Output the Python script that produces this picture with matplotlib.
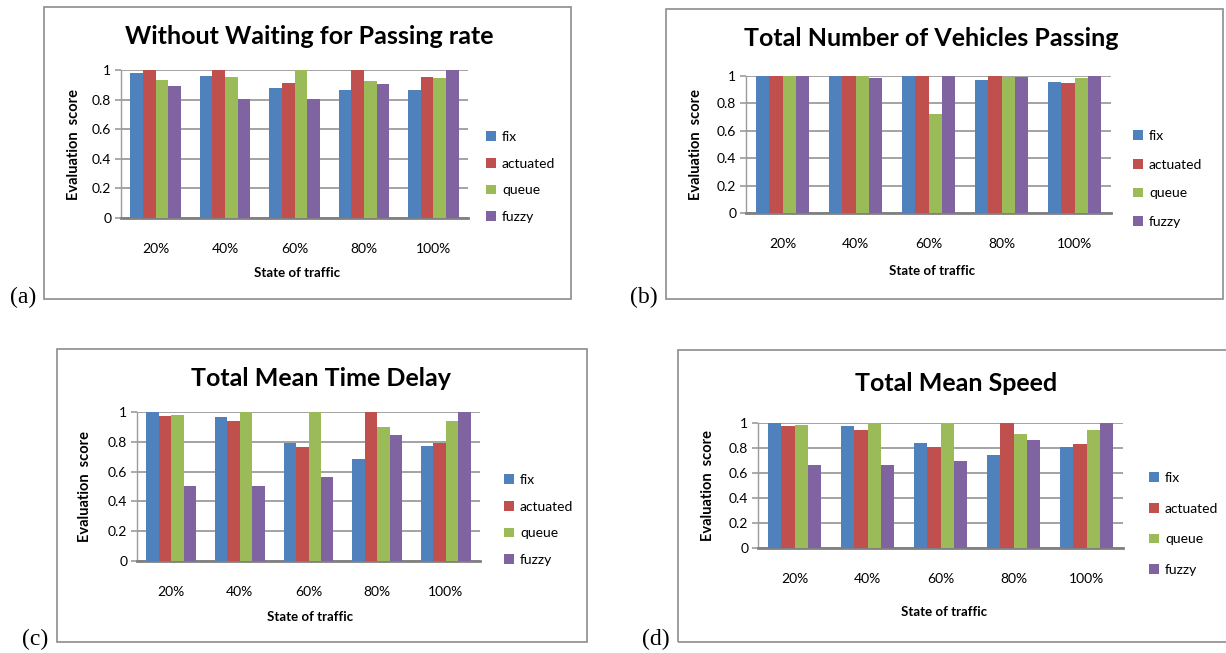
import matplotlib
matplotlib.use("Agg")
import matplotlib.pyplot as plt
from matplotlib.patches import Rectangle
import numpy as np

plt.rcParams['font.family'] = ['Lato', 'DejaVu Sans']

categories = ["20%", "40%", "60%", "80%", "100%"]
series_names = ["fix", "actuated", "queue", "fuzzy"]
colors = ["#4F81BD", "#C0504D", "#9BBB59", "#8064A2"]
yticks = [0, 0.2, 0.4, 0.6, 0.8, 1]
ytick_labels = ["0", "0.2", "0.4", "0.6", "0.8", "1"]

# (a) Without Waiting for Passing rate
a_fix = [0.98, 0.96, 0.88, 0.865, 0.865]
a_actuated = [1.0, 1.0, 0.91, 1.0, 0.953]
a_queue = [0.933, 0.953, 1.0, 0.926, 0.946]
a_fuzzy = [0.892, 0.804, 0.804, 0.906, 1.0]

# (b) Total Number of Vehicles Passing
b_fix = [1.0, 1.0, 1.0, 0.969, 0.954]
b_actuated = [1.0, 1.0, 1.0, 1.0, 0.947]
b_queue = [1.0, 1.0, 0.726, 0.99, 0.983]
b_fuzzy = [0.997, 0.988, 0.997, 0.99, 1.0]

# (c) Total Mean Time Delay
c_fix = [1.0, 0.964, 0.795, 0.683, 0.77]
c_actuated = [0.971, 0.937, 0.763, 1.0, 0.795]
c_queue = [0.978, 1.0, 1.0, 0.902, 0.937]
c_fuzzy = [0.502, 0.502, 0.562, 0.844, 1.0]

# (d) Total Mean Speed
d_fix = [1.0, 0.973, 0.837, 0.741, 0.805]
d_actuated = [0.973, 0.941, 0.805, 1.0, 0.829]
d_queue = [0.981, 0.992, 1.0, 0.909, 0.941]
d_fuzzy = [0.661, 0.661, 0.693, 0.861, 1.0]

titles = ["Without Waiting for Passing rate", "Total Number of Vehicles Passing",
          "Total Mean Time Delay", "Total Mean Speed"]
panel_tags = ["(a)", "(b)", "(c)", "(d)"]
data = [[a_fix, a_actuated, a_queue, a_fuzzy],
        [b_fix, b_actuated, b_queue, b_fuzzy],
        [c_fix, c_actuated, c_queue, c_fuzzy],
        [d_fix, d_actuated, d_queue, d_fuzzy]]

W, H = 1226, 653
fig = plt.figure(figsize=(W / 100, H / 100), dpi=100)

def fx(x):
    return x / W

def fy(y):
    return 1 - y / H

# layout in pixel coordinates (top-left origin)
layout = [
    dict(frame=(44, 7, 571, 299), plot=(121, 70, 468, 218), title=(309, 37), ylab=74,
         xlab=(297, 273), leg=(486, 177, 27), tag=(23, 297)),
    dict(frame=(666, 9, 1223, 299), plot=(746, 76, 1111, 213), title=(931, 38), ylab=696,
         xlab=(932, 271), leg=(1133, 179, 29), tag=(644, 297)),
    dict(frame=(57, 349, 587, 642), plot=(137, 412, 480, 561), title=(321, 378), ylab=85,
         xlab=(310, 617), leg=(504, 520, 27), tag=(35, 639)),
    dict(frame=(678, 350, 1236, 642), plot=(758, 423, 1123, 548), title=(956, 383), ylab=708,
         xlab=(944, 612), leg=(1149, 524, 31), tag=(656, 639)),
]

bar_w = 1 / 5.5
x = np.arange(len(categories))
grid_c = "#9C9C9C"

for i, (lay, series) in enumerate(zip(layout, data)):
    x0, y0, x1, y1 = lay["frame"]
    fig.patches.append(Rectangle((fx(x0), fy(y1)), (x1 - x0) / W, (y1 - y0) / H,
                                 transform=fig.transFigure, fill=False,
                                 edgecolor="#8C8C8C", linewidth=1.2, zorder=0))
    px0, py0, px1, py1 = lay["plot"]
    ax = fig.add_axes([fx(px0), fy(py1), (px1 - px0) / W, (py1 - py0) / H])
    handles = []
    for k, vals in enumerate(series):
        h = ax.bar(x + (k - 1.5) * bar_w, vals, width=bar_w, color=colors[k],
                   label=series_names[k], zorder=3, linewidth=0)
        handles.append(h)
    ax.set_xlim(-0.5, len(categories) - 0.5)
    ax.set_ylim(0, 1)
    ax.set_yticks(yticks)
    ax.set_yticklabels(ytick_labels, fontsize=10)
    ax.set_xticks(x)
    ax.set_xticklabels(categories, fontsize=10)
    ax.yaxis.grid(True, color=grid_c, linewidth=1.3, zorder=0)
    ax.set_axisbelow(True)
    for s in ["top", "right"]:
        ax.spines[s].set_visible(False)
    ax.spines["left"].set_color(grid_c)
    ax.spines["left"].set_linewidth(1.0)
    ax.spines["bottom"].set_color("#808080")
    ax.spines["bottom"].set_linewidth(2.0)
    ax.tick_params(axis="y", length=4, width=1.2, color=grid_c, pad=3)
    ax.tick_params(axis="x", length=0, pad=18)
    ax.set_facecolor("none")

    fig.text(fx(lay["title"][0]), fy(lay["title"][1]), titles[i], ha="center", va="center",
             fontsize=18, fontweight="bold")
    fig.text(fx(lay["ylab"]), fy((py0 + py1) / 2), "Evaluation  score", rotation=90,
             ha="center", va="center", fontsize=10.5, fontweight="bold")
    fig.text(fx(lay["xlab"][0]), fy(lay["xlab"][1]), "State of traffic", ha="center",
             va="center", fontsize=9.5, fontweight="bold")
    fig.text(fx(lay["tag"][0]), fy(lay["tag"][1]), panel_tags[i], ha="center", va="center",
             fontsize=17, family=["Liberation Serif", "DejaVu Serif"])

    lx, ly, pitch = lay["leg"]
    fs = 10
    fs_px = fs * 100 / 72
    ax.legend(handles=handles, loc="center left", bbox_to_anchor=(fx(lx), fy(ly)),
              bbox_transform=fig.transFigure, frameon=False, fontsize=fs,
              handlelength=0.7, handleheight=0.7, handletextpad=0.45,
              labelspacing=(pitch - 0.885 * fs_px) / fs_px, borderpad=0, borderaxespad=0)

fig.savefig("out.png", dpi=100)
